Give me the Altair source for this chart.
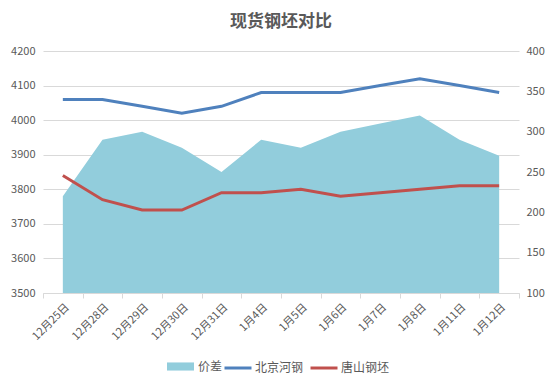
import altair as alt
import pandas as pd

dates = ["12月25日", "12月28日", "12月29日", "12月30日", "12月31日", "1月4日",
         "1月5日", "1月6日", "1月7日", "1月8日", "1月11日", "1月12日"]
beijing = [4060, 4060, 4040, 4020, 4040, 4080, 4080, 4080, 4100, 4120, 4100, 4080]
tangshan = [3840, 3770, 3740, 3740, 3790, 3790, 3800, 3780, 3790, 3800, 3810, 3810]
spread = [220, 290, 300, 280, 250, 290, 280, 300, 310, 320, 290, 270]
left_ticks = [3500, 3600, 3700, 3800, 3900, 4000, 4100, 4200]
right_ticks = [100, 150, 200, 250, 300, 350, 400]

FONT = "Noto Sans CJK SC"
GRAY = "#595959"

area_df = pd.DataFrame({"date": dates, "value": spread, "series": ["价差"] * len(dates)})
line_df = pd.DataFrame({
    "date": dates * 2,
    "value": beijing + tangshan,
    "series": ["北京河钢"] * len(dates) + ["唐山钢坯"] * len(dates),
})


def xenc():
    return alt.X(
        "date:N", sort=dates, bandPosition=0.5,
        scale=alt.Scale(type="band", paddingInner=0, paddingOuter=0),
        axis=alt.Axis(title=None, labelAngle=-45, tickBand="extent", tickSize=5,
                      tickColor="#D9D9D9", domainColor="#D9D9D9", labelPadding=3,
                      labelFont=FONT, labelFontSize=11, labelColor=GRAY, grid=False),
    )


area = alt.Chart(area_df).mark_area(opacity=1).encode(
    x=xenc(),
    y=alt.Y("value:Q", stack=None,
            scale=alt.Scale(domain=[100, 400], zero=False, nice=False),
            axis=alt.Axis(orient="right", title=None, values=right_ticks, grid=False,
                          ticks=False, domain=False, labelPadding=7, format="d",
                          labelFont=FONT, labelFontSize=11, labelColor=GRAY)),
    y2=alt.datum(100),
    fill=alt.Fill("series:N", scale=alt.Scale(domain=["价差"], range=["#92CDDC"]),
                  legend=alt.Legend(title=None, orient="none", legendX=124, legendY=302,
                                    symbolType="M-1,-0.3H1V0.3H-1Z", symbolSize=729,
                                    symbolOpacity=1, symbolStrokeWidth=0, labelOffset=4,
                                    padding=0)),
)

lines = alt.Chart(line_df).mark_line(strokeWidth=3).encode(
    x=xenc(),
    y=alt.Y("value:Q",
            scale=alt.Scale(domain=[3500, 4200], zero=False, nice=False),
            axis=alt.Axis(orient="left", title=None, values=left_ticks, grid=True,
                          gridColor="#D9D9D9", ticks=False, domain=False, labelPadding=8,
                          format="d",
                          labelFont=FONT, labelFontSize=11, labelColor=GRAY)),
    stroke=alt.Stroke("series:N",
                      scale=alt.Scale(domain=["北京河钢", "唐山钢坯"], range=["#4F81BD", "#C0504D"]),
                      legend=alt.Legend(title=None, orient="none", legendX=180, legendY=302,
                                        direction="horizontal", symbolType="stroke",
                                        symbolSize=729, symbolStrokeWidth=3, labelOffset=2,
                                        columnPadding=0, padding=0)),
)

chart = alt.layer(area, lines).resolve_scale(
    y="independent", fill="independent", stroke="independent"
).properties(
    width=476, height=242,
    padding={"left": 35, "top": 43, "right": 29, "bottom": 87},
    autosize=alt.AutoSizeParams(type="none"),
    title=alt.Title("现货钢坯对比", font=FONT, fontSize=17, fontWeight="bold",
                    color=GRAY, anchor="middle", offset=14),
    background="white",
).configure_view(stroke=None).configure_legend(
    labelFont=FONT, labelFontSize=12, labelColor=GRAY
)

chart.save("out.html", embed_options={"renderer": "svg", "actions": False})
